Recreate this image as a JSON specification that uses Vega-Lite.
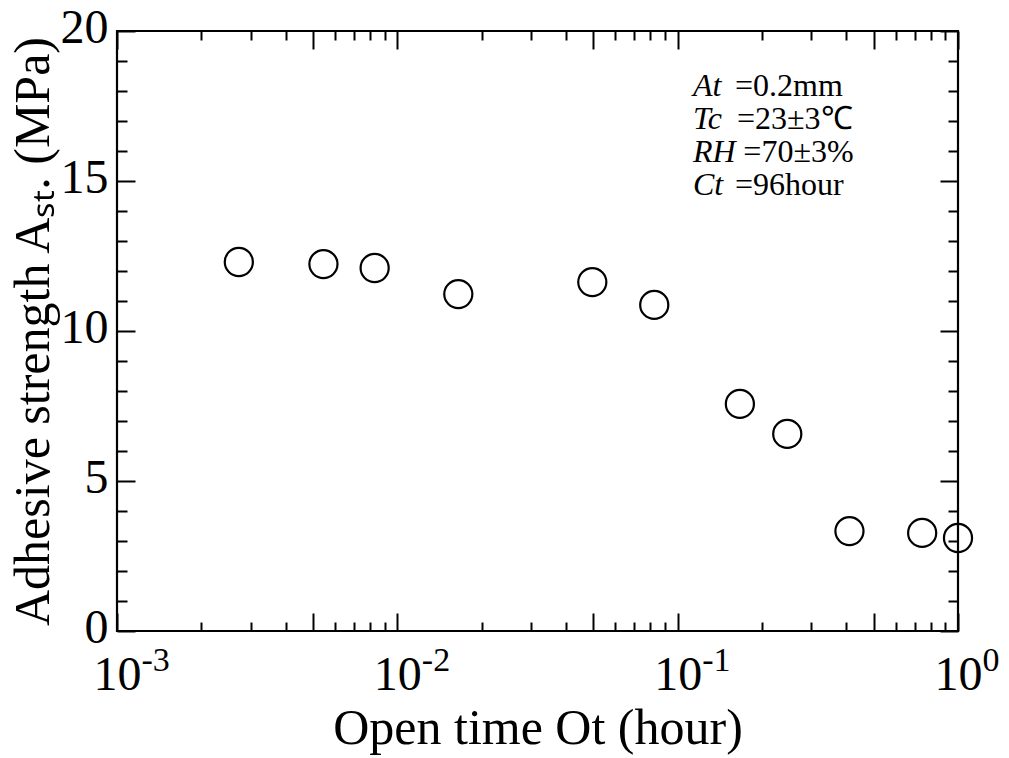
{
  "$schema": "https://vega.github.io/schema/vega-lite/v6.json",
  "width": 841,
  "height": 600,
  "autosize": {"type": "none"},
  "padding": {"left": 117, "top": 31, "right": 51, "bottom": 127},
  "background": "white",
  "config": {
    "view": {"stroke": "black", "strokeWidth": 2.2},
    "axis": {
      "domain": false,
      "grid": false,
      "tickColor": "black",
      "tickWidth": 2,
      "labelFont": "Liberation Serif",
      "titleFont": "Liberation Serif",
      "labelColor": "black",
      "titleColor": "black",
      "titleFontWeight": "normal",
      "labelOverlap": false,
      "labelBound": false,
      "labelFlush": false
    },
    "text": {"font": "Liberation Serif", "fontSize": 32, "color": "black", "align": "left", "baseline": "alphabetic"}
  },
  "data": {
    "values": [
      {"t": 0.00272, "s": 12.3},
      {"t": 0.00545, "s": 12.23},
      {"t": 0.0083, "s": 12.1},
      {"t": 0.0165, "s": 11.23},
      {"t": 0.0496, "s": 11.63},
      {"t": 0.0825, "s": 10.87},
      {"t": 0.1667, "s": 7.57},
      {"t": 0.246, "s": 6.57},
      {"t": 0.41, "s": 3.33},
      {"t": 0.745, "s": 3.27},
      {"t": 1.0, "s": 3.1}
    ]
  },
  "resolve": {"axis": {"x": "independent", "y": "independent"}},
  "layer": [
    {
      "mark": {"type": "point", "shape": "circle", "filled": false, "stroke": "black", "strokeWidth": 2.2, "size": 790, "opacity": 1},
      "encoding": {
        "x": {
          "field": "t", "type": "quantitative",
          "scale": {"type": "log", "domain": [0.001, 1], "nice": false},
          "axis": {
            "orient": "bottom",
            "values": [0.001,0.002,0.003,0.004,0.005,0.006,0.007,0.008,0.009,0.01,0.02,0.03,0.04,0.05,0.06,0.07,0.08,0.09,0.1,0.2,0.3,0.4,0.5,0.6,0.7,0.8,0.9,1],
            "tickSize": {"condition": {"test": "abs(log(datum.value)/LN10 - round(log(datum.value)/LN10)) < 0.001 || abs(log(datum.value/5)/LN10 - round(log(datum.value/5)/LN10)) < 0.001", "value": -18}, "value": -9},
            "labelExpr": "abs(log(datum.value)/LN10 - round(log(datum.value)/LN10)) < 0.001 ? '10' : ''",
            "labelFontSize": 48,
            "labelPadding": 38,
            "labelBaseline": "top",
            "title": "Open time Ot (hour)",
            "titleFontSize": 50,
            "titlePadding": -5
          }
        },
        "y": {
          "field": "s", "type": "quantitative",
          "scale": {"domain": [0, 20], "nice": false, "zero": true},
          "axis": {
            "orient": "left",
            "values": [0,1,2,3,4,5,6,7,8,9,10,11,12,13,14,15,16,17,18,19,20],
            "tickSize": {"condition": {"test": "datum.value % 5 === 0", "value": -18}, "value": -10},
            "labelExpr": "datum.value % 5 === 0 ? datum.label : ''",
            "labelFontSize": 48,
            "labelPadding": 27,
            "labelOffset": -3,
            "title": "Adhesive strength Aₛₜ. (MPa)",
            "titleFontSize": 50,
            "titlePadding": 2
          }
        }
      }
    },
    {
      "mark": {"type": "point", "shape": "circle", "filled": false, "size": 790, "opacity": 0},
      "encoding": {
        "x": {
          "field": "t", "type": "quantitative",
          "axis": {
            "orient": "top",
            "values": [0.001,0.002,0.003,0.004,0.005,0.006,0.007,0.008,0.009,0.01,0.02,0.03,0.04,0.05,0.06,0.07,0.08,0.09,0.1,0.2,0.3,0.4,0.5,0.6,0.7,0.8,0.9,1],
            "tickSize": {"condition": {"test": "abs(log(datum.value)/LN10 - round(log(datum.value)/LN10)) < 0.001 || abs(log(datum.value/5)/LN10 - round(log(datum.value/5)/LN10)) < 0.001", "value": -18}, "value": -9},
            "labels": false,
            "title": null
          }
        },
        "y": {
          "field": "s", "type": "quantitative",
          "axis": {
            "orient": "right",
            "values": [0,1,2,3,4,5,6,7,8,9,10,11,12,13,14,15,16,17,18,19,20],
            "tickSize": {"condition": {"test": "datum.value % 5 === 0", "value": -18}, "value": -10},
            "labels": false,
            "title": null
          }
        }
      }
    },
    {
      "mark": {"type": "point", "shape": "circle", "filled": false, "size": 790, "opacity": 0},
      "encoding": {
        "x": {
          "field": "t", "type": "quantitative",
          "axis": {
            "orient": "bottom",
            "values": [0.001, 0.01, 0.1, 1],
            "ticks": false,
            "labelExpr": "'' + round(log(datum.value)/LN10)",
            "labelFontSize": 34,
            "labelAlign": "left",
            "labelBaseline": "top",
            "labelOffset": 24,
            "labelPadding": 12,
            "title": null
          }
        },
        "y": {"field": "s", "type": "quantitative", "axis": null}
      }
    },
    {
      "data": {"values": [{}]},
      "mark": {"type": "text", "text": "At", "fontStyle": "italic"},
      "encoding": {
        "x": {"datum": 0.1134, "type": "quantitative", "axis": null},
        "y": {"datum": 17.833, "type": "quantitative", "axis": null}
      }
    },
    {
      "data": {"values": [{}]},
      "mark": {"type": "text", "text": "=0.2mm"},
      "encoding": {
        "x": {"datum": 0.1601, "type": "quantitative", "axis": null},
        "y": {"datum": 17.833, "type": "quantitative", "axis": null}
      }
    },
    {
      "data": {"values": [{}]},
      "mark": {"type": "text", "text": "Tc", "fontStyle": "italic"},
      "encoding": {
        "x": {"datum": 0.1134, "type": "quantitative", "axis": null},
        "y": {"datum": 16.733, "type": "quantitative", "axis": null}
      }
    },
    {
      "data": {"values": [{}]},
      "mark": {"type": "text", "text": "=23±3℃"},
      "encoding": {
        "x": {"datum": 0.1628, "type": "quantitative", "axis": null},
        "y": {"datum": 16.733, "type": "quantitative", "axis": null}
      }
    },
    {
      "data": {"values": [{}]},
      "mark": {"type": "text", "text": "RH", "fontStyle": "italic"},
      "encoding": {
        "x": {"datum": 0.1134, "type": "quantitative", "axis": null},
        "y": {"datum": 15.633, "type": "quantitative", "axis": null}
      }
    },
    {
      "data": {"values": [{}]},
      "mark": {"type": "text", "text": "=70±3%"},
      "encoding": {
        "x": {"datum": 0.1715, "type": "quantitative", "axis": null},
        "y": {"datum": 15.633, "type": "quantitative", "axis": null}
      }
    },
    {
      "data": {"values": [{}]},
      "mark": {"type": "text", "text": "Ct", "fontStyle": "italic"},
      "encoding": {
        "x": {"datum": 0.1134, "type": "quantitative", "axis": null},
        "y": {"datum": 14.533, "type": "quantitative", "axis": null}
      }
    },
    {
      "data": {"values": [{}]},
      "mark": {"type": "text", "text": "=96hour"},
      "encoding": {
        "x": {"datum": 0.1601, "type": "quantitative", "axis": null},
        "y": {"datum": 14.533, "type": "quantitative", "axis": null}
      }
    }
  ]
}
